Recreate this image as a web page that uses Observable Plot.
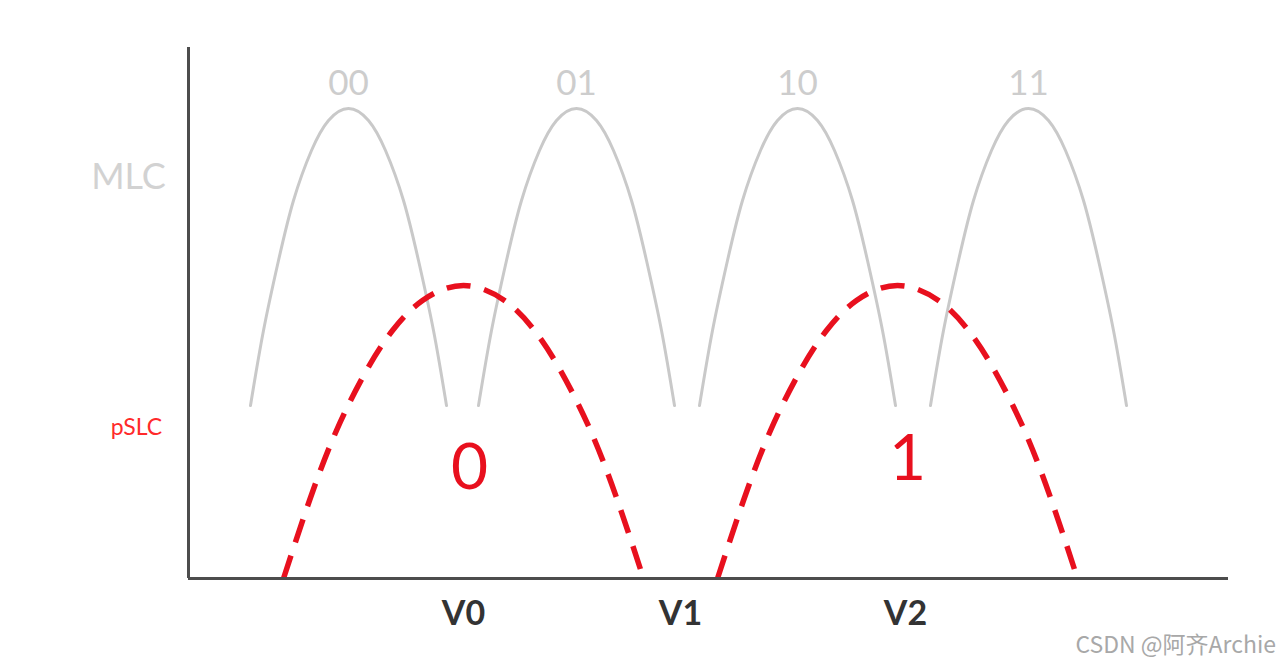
<!DOCTYPE html>
<html>
<head>
<meta charset="utf-8">
<script src="https://cdn.jsdelivr.net/npm/d3@7"></script>
<script src="https://cdn.jsdelivr.net/npm/@observablehq/plot@0.6"></script>
<style>
  html, body { margin: 0; padding: 0; background: #fff; }
  #wrap { position: relative; width: 1280px; height: 668px; overflow: hidden; }
  #mark { position: absolute; right: 4px; bottom: 8px; font: 23px "Noto Sans CJK SC", "Noto Sans", sans-serif; color: #a8a8a8; }
</style>
</head>
<body>
<div id="wrap"><div id="mark">CSDN @阿齐Archie</div></div>
<script>
// MLC state distributions (grey arches): centres and labels
const mlcStates = ["00", "01", "10", "11"];
const mlcCenters = [16.0, 38.8, 60.9, 84.0];
// profile of one grey arch: [dx, level]
const mlcProfileDx = [-9.8, -8.5, -7.0, -5.5, -3.7, -2.0, 0, 2.0, 3.7, 5.5, 7.0, 8.5, 9.8];
const mlcProfileY  = [17.3, 24.8, 31.8, 37.8, 42.8, 45.8, 47.0, 45.8, 42.8, 37.8, 31.8, 24.8, 17.3];

// pSLC state distributions (red dashed arches)
const slcStates = ["0", "1"];
const slcCenters = [27.5, 70.9];
const slcLabelX = [28.1, 71.9];
const slcLabelY = [11.0, 11.9];
const slcProfileDx = [-18.0, -15.4, -12.7, -9.7, -7.1, -4.1, 0, 4.1, 7.1, 9.7, 12.7, 15.4, 18.0];
const slcProfileY  = [0, 7.8, 14.8, 20.8, 24.8, 27.8, 29.3, 27.8, 24.8, 20.8, 14.8, 7.8, 0];

// read voltages on the x axis
const tickValues = [27.5, 49.2, 71.7];
const tickLabels = ["V0", "V1", "V2"];

// row labels
const rowLabels = ["MLC", "pSLC"];

const mlcRows = mlcCenters.flatMap((c, i) =>
  mlcProfileDx.map((dx, j) => ({state: mlcStates[i], x: c + dx, y: mlcProfileY[j]})));
const slcRows = slcCenters.flatMap((c, i) =>
  slcProfileDx.map((dx, j) => ({state: slcStates[i], x: c + dx, y: slcProfileY[j]})));

const chart = Plot.plot({
  width: 1280,
  height: 668,
  marginLeft: 188,
  marginRight: 52,
  marginTop: 47,
  marginBottom: 90,
  x: {domain: [0, 104]},
  y: {domain: [0, 53.1]},
  style: {background: "white", overflow: "visible", fontFamily: "Lato, 'Open Sans', sans-serif"},
  marks: [
    Plot.line(mlcRows, {x: "x", y: "y", z: "state", curve: "natural", stroke: "#c9c9c9", strokeWidth: 3}),
    Plot.line(slcRows, {x: "x", y: "y", z: "state", curve: "natural", stroke: "#e8101e", strokeWidth: 5.5,
      strokeDasharray: "24,14", strokeLinecap: "butt"}),
    Plot.text(mlcStates, {x: (d, i) => mlcCenters[i], y: 49.5, text: d => d, fontSize: 35, fill: "#cdcdcd"}),
    Plot.text(slcStates, {x: (d, i) => slcLabelX[i], y: (d, i) => slcLabelY[i], text: d => d, fontSize: 64, fill: "#e8101e"}),
    Plot.text([rowLabels[0]], {x: -6.0, y: 40.1, text: d => d, fontSize: 36, fill: "#d2d2d2"}),
    Plot.text([rowLabels[1]], {x: -5.2, y: 15.1, text: d => d, fontSize: 23, fill: "#ff2a2a"}),
    Plot.ruleX([0], {stroke: "#4d4d4d", strokeWidth: 3}),
    Plot.ruleY([0], {stroke: "#4d4d4d", strokeWidth: 3}),
    Plot.axisX({ticks: tickValues, tickFormat: (d, i) => tickLabels[i], tickSize: 0, tickPadding: 22,
      fontSize: 34, fontWeight: "bold", fill: "#333", label: null}),
    Plot.axisY({ticks: [], label: null, tickSize: 0})
  ]
});
document.getElementById("wrap").prepend(chart);
</script>
</body>
</html>
